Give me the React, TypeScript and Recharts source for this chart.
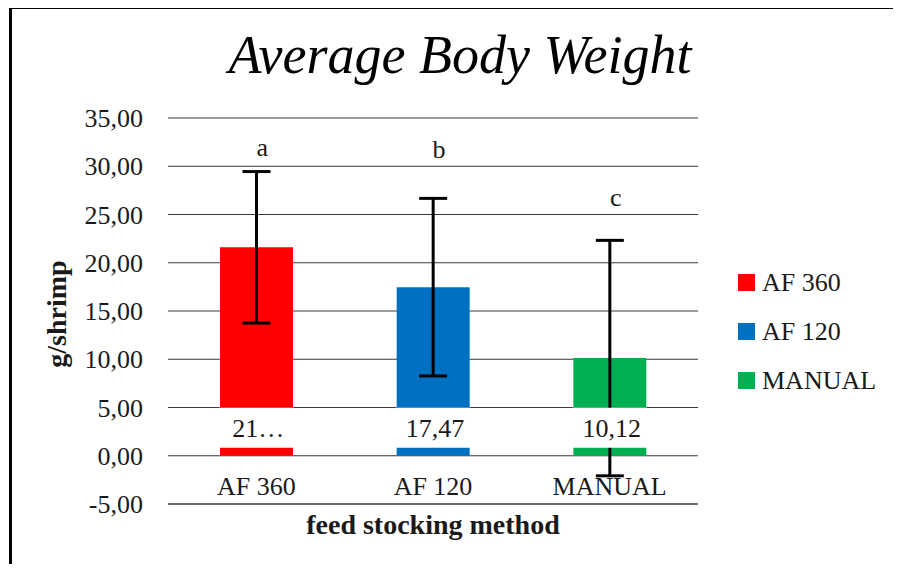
import {
  ComposedChart, Bar, Cell, ErrorBar, Scatter, XAxis, YAxis,
  CartesianGrid, Label,
} from 'recharts';

const categories = ['AF 360', 'AF 120', 'MANUAL'];
const means = [21.6, 17.47, 10.12];
const errors = [7.85, 9.2, 12.2];
const valueLabels = ['21…', '17,47', '10,12'];
const letters = ['a', 'b', 'c'];
const letterPos = [32.0, 31.8, 26.85];
const colors = ['#FF0000', '#0070C0', '#00B050'];
const yTicks = [-5, 0, 5, 10, 15, 20, 25, 30, 35];

const FONT = '"Liberation Serif", serif';
const INK = '#1a1a1a';
const BAR_W = 73;

const data = categories.map((name, i) => ({
  name,
  value: means[i],
  err: errors[i],
  label: valueLabels[i],
  letter: letters[i],
  letterY: letterPos[i],
  base: 0,
}));

const fmt = (v: number) => v.toFixed(2).replace('.', ',');

// data label box sitting at the bar base (drawn after the error bars, like Excel)
function ValueLabel(props: any) {
  const { cx, cy, payload } = props;
  return (
    <g>
      <rect x={cx - BAR_W / 2 - 1} y={cy - 48} width={BAR_W + 2} height={40} fill="#fff" />
      <text x={cx + 2} y={cy - 19} textAnchor="middle" fontFamily={FONT} fontSize={26} fill={INK}>
        {payload.label}
      </text>
    </g>
  );
}

function LetterShape(props: any) {
  const { cx, cy, payload } = props;
  return (
    <text x={cx + 6} y={cy} dy="0.35em" textAnchor="middle" fontFamily={FONT} fontSize={26} fill={INK}>
      {payload.letter}
    </text>
  );
}

function CatTick(props: any) {
  const { x, y, payload } = props;
  return (
    <text x={x} y={y - 9} textAnchor="middle" fontFamily={FONT} fontSize={26} fill={INK}>
      {payload.value}
    </text>
  );
}

function LegendBox() {
  return (
    <div style={{ position: 'absolute', left: 730, top: 250, fontFamily: FONT, fontSize: 26, color: INK }}>
      {categories.map((c, i) => (
        <div key={c} style={{ display: 'flex', alignItems: 'center', height: 49 }}>
          <span style={{ width: 17, height: 17, background: colors[i], marginRight: 7, display: 'inline-block' }} />
          <span>{c}</span>
        </div>
      ))}
    </div>
  );
}

export default function App() {
  return (
    <div style={{ position: 'relative', width: 885, height: 556 }}>
      <div style={{
        position: 'absolute', left: 1, top: -2, width: 892, height: 565,
        borderLeft: '3px solid #000', borderTop: '3px solid #000', boxSizing: 'border-box',
      }} />
      <div style={{
        position: 'absolute', left: 152, top: 20, width: 600, textAlign: 'center',
        fontFamily: FONT, fontStyle: 'italic', fontSize: 54, lineHeight: '54px', color: '#000',
      }}>
        Average Body Weight
      </div>
      <ComposedChart width={885} height={556} data={data}
        margin={{ top: 110, right: 195, bottom: 0, left: 0 }}>
        <CartesianGrid vertical={false} stroke="#3a3a3a" strokeWidth={1} />
        <XAxis dataKey="name" type="category" height={60} tickSize={0} tickMargin={0}
          axisLine={{ stroke: '#3a3a3a' }} tickLine={false} tick={<CatTick />} interval={0}>
          <Label content={(p: any) => {
            const vb = p.viewBox;
            return (
              <text x={vb.x + vb.width / 2} y={vb.y + 30} textAnchor="middle"
                fontFamily={FONT} fontSize={28} fontWeight="bold" fill={INK}>
                feed stocking method
              </text>
            );
          }} />
        </XAxis>
        <YAxis type="number" domain={[-5, 35]} ticks={yTicks} width={160} tickSize={0} tickMargin={25}
          axisLine={false} tickLine={false} tickFormatter={fmt} interval={0}
          tick={{ fontFamily: FONT, fontSize: 26, fill: INK }}>
          <Label content={(p: any) => {
            const vb = p.viewBox;
            const cx = 58, cy = vb.y + vb.height / 2 + 3;
            return (
              <text x={cx} y={cy} transform={`rotate(-90 ${cx} ${cy})`} textAnchor="middle"
                fontFamily={FONT} fontSize={28} fontWeight="bold" fill={INK}>
                g/shrimp
              </text>
            );
          }} />
        </YAxis>
        <Bar dataKey="value" barSize={BAR_W} isAnimationActive={false} legendType="none">
          {data.map((_, i) => <Cell key={i} fill={colors[i]} />)}
          <ErrorBar dataKey="err" width={14} strokeWidth={3} stroke="#000" direction="y" />
        </Bar>
        <Scatter dataKey="base" isAnimationActive={false} legendType="none" shape={<ValueLabel />} />
        <Scatter dataKey="letterY" isAnimationActive={false} legendType="none" shape={<LetterShape />} />
      </ComposedChart>
      <LegendBox />
    </div>
  );
}
